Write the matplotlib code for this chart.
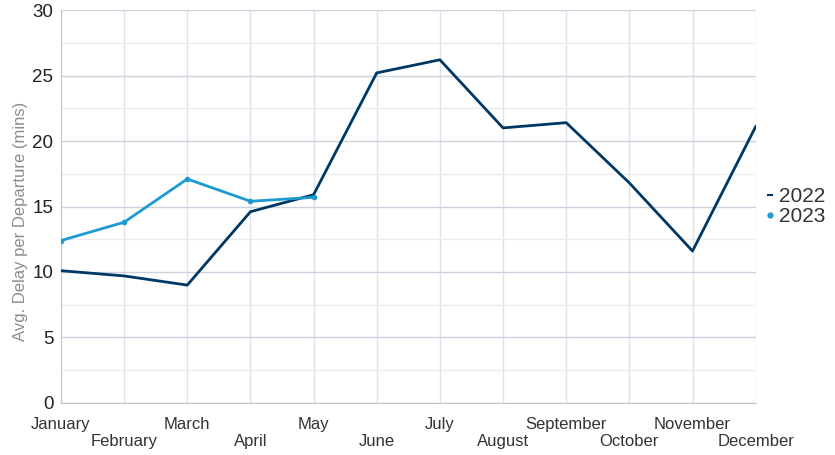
import matplotlib.pyplot as plt
from matplotlib.lines import Line2D

MONTHS = ["January", "February", "March", "April", "May", "June",
          "July", "August", "September", "October", "November", "December"]
DELAY_2022 = [10.1, 9.7, 9.0, 14.6, 15.9, 25.2, 26.2, 21.0, 21.4, 16.8, 11.6, 21.1]
DELAY_2023 = [12.4, 13.8, 17.1, 15.4, 15.7]

COLOR_2022 = "#003865"
COLOR_2023 = "#1d9bd0"

plt.rcParams["font.family"] = ["Liberation Sans", "DejaVu Sans"]

fig = plt.figure(figsize=(8.35, 4.55), dpi=100)
ax = fig.add_axes([0.073, 0.1143, 0.832, 0.8637])

x = list(range(len(MONTHS)))
ax.plot(x, DELAY_2022, color=COLOR_2022, linewidth=2, zorder=3)
ax.plot(x[:len(DELAY_2023)], DELAY_2023, color=COLOR_2023, linewidth=2,
        marker="o", markersize=3, zorder=3)

ax.set_xlim(0, 11)
ax.set_ylim(0, 30)

# grid
ax.set_yticks(range(0, 31, 5))
ax.set_yticks([2.5 + 5 * i for i in range(6)], minor=True)
ax.set_xticks(x)
ax.grid(axis="y", which="major", color="#ccd3df", linewidth=1)
ax.grid(axis="y", which="minor", color="#ebebf0", linewidth=1)
ax.grid(axis="x", which="major", color="#e1e1ea", linewidth=1)
ax.set_axisbelow(True)

for side in ["top", "right"]:
    ax.spines[side].set_visible(False)
ax.spines["left"].set_color("#c0c4cc")
ax.spines["bottom"].set_color("#c0c4cc")

ax.tick_params(axis="both", which="both", length=0)
ax.tick_params(axis="y", labelsize=13.5, labelcolor="#222222", pad=5.5)
ax.set_xticklabels([])

# staggered month labels
for i, name in enumerate(MONTHS):
    offset = -15.8 if i % 2 == 0 else -27.4
    ax.annotate(name, xy=(i, 0), xycoords=("data", "axes fraction"),
                xytext=(0, offset), textcoords="offset points",
                ha="center", va="center", fontsize=12, color="#333333",
                annotation_clip=False)

ax.set_ylabel("Avg. Delay per Departure (mins)", fontsize=12,
              color="#8c8c8c")
ax.yaxis.set_label_coords(-0.048, 0.463)

handles = [
    Line2D([], [], color=COLOR_2022, marker="_", markersize=5,
           linestyle="none", markeredgewidth=1.5),
    Line2D([], [], color=COLOR_2023, marker="o", markersize=3.5,
           linestyle="none"),
]
leg = ax.legend(handles, ["2022", "2023"], loc="center left",
                bbox_to_anchor=(1.0, 0.5), frameon=False, fontsize=15,
                handlelength=0.5, handletextpad=0.15, labelspacing=0.05,
                borderaxespad=0.05)
for t in leg.get_texts():
    t.set_color("#333333")

fig.savefig("out.png", dpi=100)
